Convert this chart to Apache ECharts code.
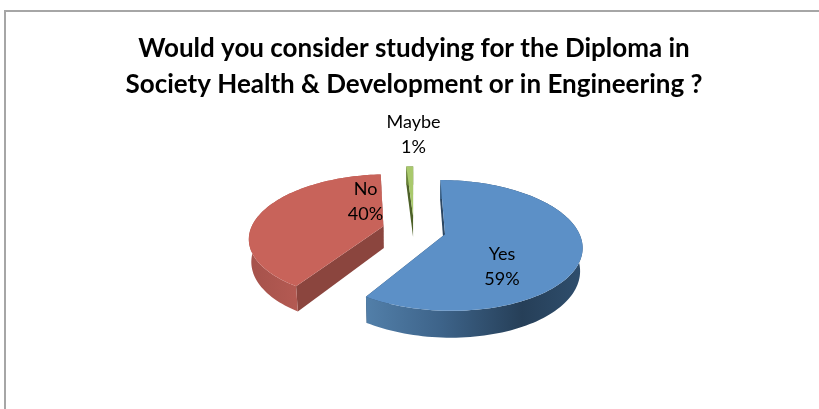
<!DOCTYPE html>
<html>
<head>
<meta charset="utf-8">
<style>html,body{margin:0;padding:0;background:#fff}#c{width:819px;height:409px}</style>
<script src="https://cdn.jsdelivr.net/npm/echarts@6/dist/echarts.min.js"></script>
</head>
<body>
<div id="c"></div>
<script>
// ---- data ----
const categories = ['Yes', 'No', 'Maybe'];
const values = [59, 40, 1];
const titleLines = ['Would you consider studying for the Diploma in', 'Society Health & Development or in Engineering ?'];

// ---- layout / style ----
const FONT = 'Lato, "Open Sans", sans-serif';
const view = {cx: 414, cy: 230, rx: 133, ry: 62, persp: 0.17, depth: 22, explode: 0.24, baseScale: 0.985};
const labelAt = [[502, 267], [365.5, 202], [413.5, 135]];
const topFill = ['#5c90c7', '#c8635a', '#a9c96c'];
const faceFill = ['#2c4763', '#8b453e', '#4d6128'];
const sideStops = [
  [[0, '#527fa9'], [0.35, '#3d6389'], [0.72, '#263f58'], [1, '#2f4e6d']],
  [[0, '#a5524b'], [0.6, '#bd5f57'], [1, '#b2574f']],
  [[0, '#6f8a3c'], [1, '#4d6128']]
];
const drawOrder = [1, 2, 0];

function project(X, Y, lift) {
  const w = 1 / (1 - view.persp * Y);
  const s = lift ? view.baseScale : 1;
  return [
    view.cx + view.rx * X * w * s,
    view.cy + view.ry * Y * w + (lift ? view.depth * w : 0)
  ];
}

const total = values.reduce((a, b) => a + b, 0);

function renderSlice(params, api) {
  const idx = params.dataIndex;
  let before = 0;
  for (let i = 0; i < idx; i++) before += values[i];
  const val = api.value(0);
  const a0 = before / total * Math.PI * 2;
  const a1 = (before + val) / total * Math.PI * 2;
  const mid = (a0 + a1) / 2;
  const ox = Math.sin(mid) * view.explode;
  const oy = -Math.cos(mid) * view.explode;
  const steps = Math.max(4, Math.ceil((a1 - a0) / 0.03));
  const top = [], base = [];
  for (let i = 0; i <= steps; i++) {
    const a = a0 + (a1 - a0) * i / steps;
    const X = ox + Math.sin(a), Y = oy - Math.cos(a);
    top.push(project(X, Y, false));
    base.push(project(X, Y, true));
  }
  const apexTop = project(ox, oy, false);
  const apexBase = project(ox, oy, true);
  const poly = (points, fill) => ({type: 'polygon', shape: {points}, style: {fill}});
  const gradient = new echarts.graphic.LinearGradient(0, 0, 1, 0,
    sideStops[idx].map(s => ({offset: s[0], color: s[1]})));
  const children = [
    poly([apexTop, top[0], base[0], apexBase], faceFill[idx]),
    poly([apexTop, top[steps], base[steps], apexBase], faceFill[idx]),
    poly(top.concat(base.slice().reverse()), gradient),
    poly([apexTop].concat(top), topFill[idx]),
    {
      type: 'text', z2: 10,
      style: {
        x: labelAt[idx][0], y: labelAt[idx][1],
        text: categories[idx] + '\n' + val + '%',
        fill: '#000', font: '18px ' + FONT, lineHeight: 25,
        align: 'center', verticalAlign: 'middle'
      }
    }
  ];
  return {type: 'group', z2: drawOrder.indexOf(idx), children};
}

const chart = echarts.init(document.getElementById('c'), null, {renderer: 'canvas'});
chart.setOption({
  animation: false,
  backgroundColor: '#fff',
  title: {
    text: titleLines.join('\n'),
    left: 409, top: 26, textAlign: 'center',
    textStyle: {fontFamily: FONT, fontSize: 26, fontWeight: 'bold', color: '#000', lineHeight: 36}
  },
  graphic: [
    {type: 'polyline', shape: {points: [[5, 409], [5, 11], [819, 11]]}, style: {stroke: '#a6a6a6', lineWidth: 2, fill: null}}
  ],
  series: [{
    type: 'custom',
    coordinateSystem: 'none',
    renderItem: renderSlice,
    data: values.map((v, i) => ({name: categories[i], value: [v]}))
  }]
});
</script>
</body>
</html>
